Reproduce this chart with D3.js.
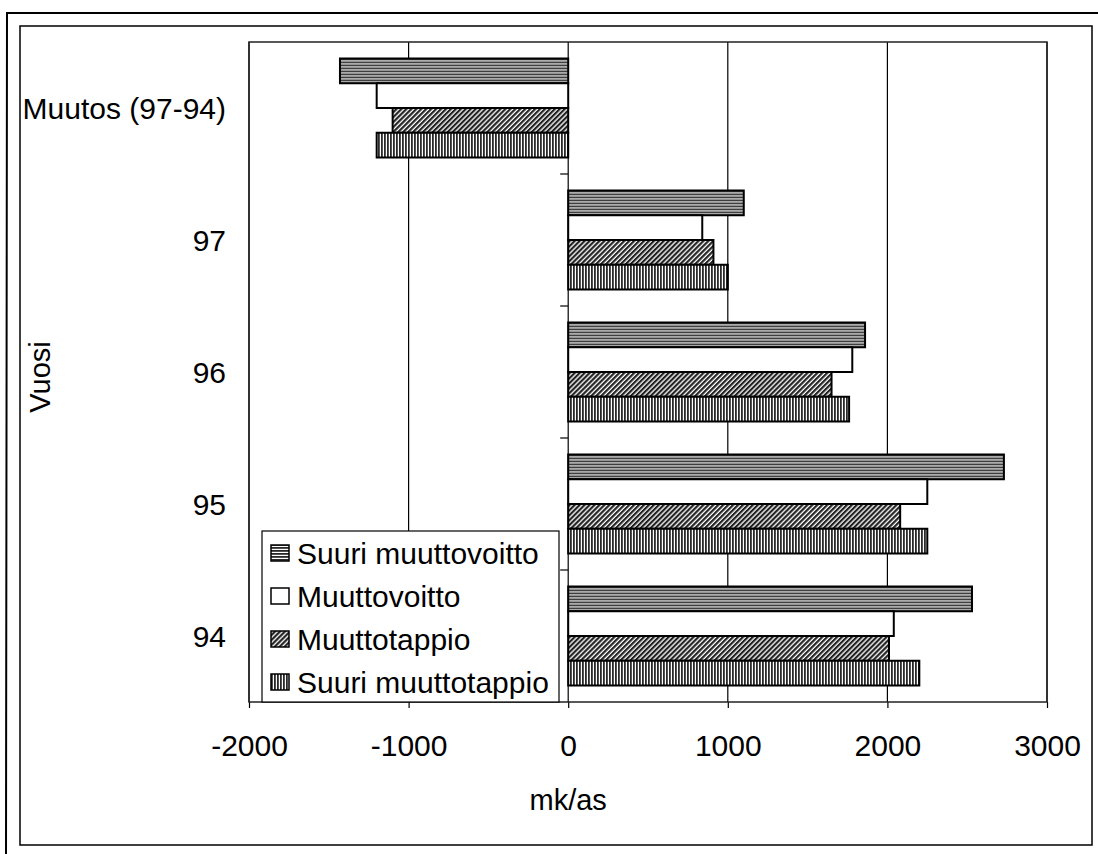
<!DOCTYPE html>
<html>
<head>
<meta charset="utf-8">
<script src="https://cdnjs.cloudflare.com/ajax/libs/d3/7.8.5/d3.min.js"></script>
<style>
  body { margin: 0; background: #fff; }
  text { font-family: "Liberation Sans", Arial, sans-serif; fill: #000; }
</style>
</head>
<body>
<div id="vis"></div>
<script>
const FRAME_WIDTH = 1098;
const FRAME_HEIGHT = 854;
const PLOT = { left: 249, top: 42, right: 1047, bottom: 702 };

// data
const categories = ["Muutos (97-94)", "97", "96", "95", "94"];
const seriesNames = ["Suuri muuttovoitto", "Muuttovoitto", "Muuttotappio", "Suuri muuttotappio"];
const suuriVoitto = [-1430, 1100, 1860, 2730, 2530];
const voitto = [-1200, 840, 1780, 2250, 2040];
const tappio = [-1100, 910, 1650, 2080, 2010];
const suuriTappio = [-1200, 1000, 1760, 2250, 2200];
const xTicks = [-2000, -1000, 0, 1000, 2000, 3000];

const seriesValues = [suuriVoitto, voitto, tappio, suuriTappio];
const fills = ["url(#hstripe)", "#fff", "url(#diag)", "url(#vstripe)"];

const svg = d3.select("#vis").append("svg")
  .attr("width", FRAME_WIDTH)
  .attr("height", FRAME_HEIGHT);

// patterns
const defs = svg.append("defs");
const hs = defs.append("pattern").attr("id", "hstripe")
  .attr("patternUnits", "userSpaceOnUse").attr("width", 6).attr("height", 3);
hs.append("rect").attr("width", 6).attr("height", 3).attr("fill", "#fff");
hs.append("rect").attr("width", 6).attr("height", 1.8).attr("fill", "#2a2a2a");

const vs = defs.append("pattern").attr("id", "vstripe")
  .attr("patternUnits", "userSpaceOnUse").attr("width", 3).attr("height", 6);
vs.append("rect").attr("width", 3).attr("height", 6).attr("fill", "#fff");
vs.append("rect").attr("width", 1.8).attr("height", 6).attr("fill", "#2a2a2a");

const dg = defs.append("pattern").attr("id", "diag")
  .attr("patternUnits", "userSpaceOnUse").attr("width", 3.5).attr("height", 3.5)
  .attr("patternTransform", "rotate(45)");
dg.append("rect").attr("width", 3.5).attr("height", 3.5).attr("fill", "#fff");
dg.append("rect").attr("width", 2.2).attr("height", 3.5).attr("fill", "#222");

// frame around the whole chart
svg.append("path")
  .attr("d", "M6,854 L7,13 L1098,13")
  .attr("fill", "none").attr("stroke", "#000").attr("stroke-width", 2);
svg.append("rect")
  .attr("x", 20).attr("y", 26).attr("width", 1072).attr("height", 819)
  .attr("fill", "none").attr("stroke", "#000").attr("stroke-width", 1.5);

const X_SCALE = d3.scaleLinear()
  .domain([-2000, 3000])
  .range([PLOT.left, PLOT.right]);

const Y_SCALE = d3.scaleBand()
  .domain(categories)
  .range([PLOT.top, PLOT.bottom])
  .paddingInner(0.25)
  .paddingOuter(0.125);

const Y_INNER = d3.scaleBand()
  .domain(seriesNames)
  .range([0, Y_SCALE.bandwidth()]);

// bottom axis
const xAxis = svg.append("g")
  .attr("transform", `translate(0, ${PLOT.bottom})`)
  .call(d3.axisBottom(X_SCALE).tickValues(xTicks).tickSize(6).tickPadding(27)
    .tickFormat(d3.format("d")));
xAxis.select(".domain").remove();
xAxis.selectAll("line").attr("stroke", "#000").attr("stroke-width", 1.2);
xAxis.selectAll("text").attr("font-size", 30)
  .text(d => d < 0 ? "-" + Math.abs(d) : d);

// gridlines
svg.append("g")
  .selectAll("line")
  .data(xTicks)
  .enter()
  .append("line")
  .attr("x1", d => X_SCALE(d)).attr("x2", d => X_SCALE(d))
  .attr("y1", PLOT.top).attr("y2", PLOT.bottom)
  .attr("stroke", "#000").attr("stroke-width", 1.2);

svg.append("rect")
  .attr("x", PLOT.left).attr("y", PLOT.top)
  .attr("width", PLOT.right - PLOT.left).attr("height", PLOT.bottom - PLOT.top)
  .attr("fill", "none").attr("stroke", "#222").attr("stroke-width", 1.5);

// category ticks on the zero line, between groups
const gap = Y_SCALE.step() * Y_SCALE.paddingInner() / 2;
svg.append("g")
  .selectAll("line")
  .data(categories.slice(1))
  .enter()
  .append("line")
  .attr("x1", X_SCALE(0) - 8).attr("x2", X_SCALE(0))
  .attr("y1", d => Y_SCALE(d) - gap).attr("y2", d => Y_SCALE(d) - gap)
  .attr("stroke", "#000").attr("stroke-width", 1.2);

// bars
const groups = svg.append("g")
  .selectAll("g")
  .data(categories)
  .enter()
  .append("g")
  .attr("transform", d => `translate(0, ${Y_SCALE(d)})`);

groups.selectAll("rect")
  .data((c, i) => seriesNames.map((s, j) => ({ s: s, v: seriesValues[j][i], j: j })))
  .enter()
  .append("rect")
  .attr("x", d => X_SCALE(Math.min(0, d.v)))
  .attr("y", d => Y_INNER(d.s))
  .attr("width", d => Math.abs(X_SCALE(d.v) - X_SCALE(0)))
  .attr("height", Y_INNER.bandwidth())
  .attr("fill", d => fills[d.j])
  .attr("stroke", "#000")
  .attr("stroke-width", 2);

// category labels
svg.append("g")
  .selectAll("text")
  .data(categories)
  .enter()
  .append("text")
  .attr("x", 226)
  .attr("y", d => Y_SCALE(d) + Y_SCALE.bandwidth() / 2)
  .attr("dy", "0.36em")
  .attr("text-anchor", "end")
  .attr("font-size", 30)
  .text(d => d);

// axis titles
svg.append("text")
  .attr("x", X_SCALE(0))
  .attr("y", 810)
  .attr("text-anchor", "middle")
  .attr("font-size", 29)
  .text("mk/as");

svg.append("text")
  .attr("transform", "translate(50, 377) rotate(-90)")
  .attr("text-anchor", "middle")
  .attr("font-size", 29)
  .text("Vuosi");

// legend
const LEG = { x: 262, y: 531, w: 297, h: 171 };
svg.append("rect")
  .attr("x", LEG.x).attr("y", LEG.y).attr("width", LEG.w).attr("height", LEG.h)
  .attr("fill", "#fff").attr("stroke", "#000").attr("stroke-width", 1.2);

const legItems = svg.append("g")
  .selectAll("g")
  .data(seriesNames)
  .enter()
  .append("g")
  .attr("transform", (d, i) => `translate(${LEG.x + 9}, ${LEG.y + 22 + i * 43})`);

legItems.append("rect")
  .attr("x", 0).attr("y", -8).attr("width", 18).attr("height", 16)
  .attr("fill", (d, i) => fills[i])
  .attr("stroke", "#000").attr("stroke-width", 1.5);

legItems.append("text")
  .attr("x", 26)
  .attr("dy", "0.36em")
  .attr("font-size", 30)
  .text(d => d);
</script>
</body>
</html>
